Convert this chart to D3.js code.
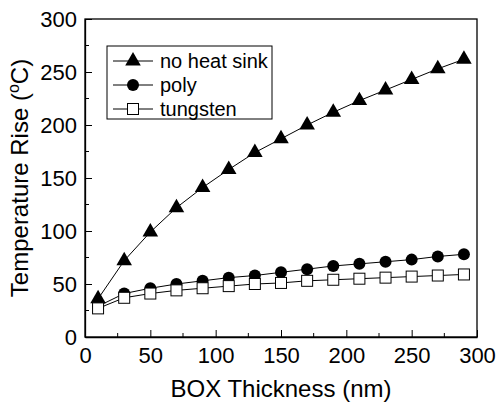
<!DOCTYPE html>
<html>
<head>
<meta charset="utf-8">
<script src="https://cdn.jsdelivr.net/npm/d3@7"></script>
<style>
  body { margin: 0; background: #fff; }
  text { font-family: "Liberation Sans", Arial, sans-serif; fill: #000; }
</style>
</head>
<body>
<div class="chart"></div>
<script>
var svgWidth = 496;
var svgHeight = 407;

var margin = { top: 19, right: 19, bottom: 70, left: 85 };
var width = svgWidth - margin.left - margin.right;
var height = svgHeight - margin.top - margin.bottom;

// data
var thickness = [10, 30, 50, 70, 90, 110, 130, 150, 170, 190, 210, 230, 250, 270, 290];
var noHeatSink = [36, 72, 99, 122, 141, 158, 174, 187, 200, 212, 223, 233, 243, 253, 262];
var poly = [29, 41, 46, 50, 53, 56, 58, 61, 64, 67, 69, 71, 73, 76, 78];
var tungsten = [27, 37, 41, 44, 46, 48, 50, 51, 53, 54, 55, 56, 57, 58, 59];
var xTicks = [0, 50, 100, 150, 200, 250, 300];
var yTicks = [0, 50, 100, 150, 200, 250, 300];
var seriesNames = ["no heat sink", "poly", "tungsten"];

var svg = d3.select(".chart")
  .append("svg")
  .attr("width", svgWidth)
  .attr("height", svgHeight);

var chartGroup = svg.append("g")
  .attr("transform", `translate(${margin.left}, ${margin.top})`);

var x = d3.scaleLinear().domain([0, 300]).range([0, width]);
var y = d3.scaleLinear().domain([0, 300]).range([height, 0]);

// frame
chartGroup.append("rect")
  .attr("width", width)
  .attr("height", height)
  .attr("fill", "none")
  .attr("stroke", "#000")
  .attr("stroke-width", 1.3);

// minor ticks
var minor = d3.range(25, 300, 50);
chartGroup.selectAll(".xminor").data(minor).enter().append("line")
  .attr("x1", d => x(d)).attr("x2", d => x(d))
  .attr("y1", height).attr("y2", height - 4)
  .attr("stroke", "#000");
chartGroup.selectAll(".yminor").data(minor).enter().append("line")
  .attr("y1", d => y(d)).attr("y2", d => y(d))
  .attr("x1", 0).attr("x2", 4)
  .attr("stroke", "#000");

// axes with inward ticks
var xAxis = chartGroup.append("g")
  .attr("transform", `translate(0, ${height})`)
  .call(d3.axisBottom(x).tickValues(xTicks).tickSizeInner(-7).tickSizeOuter(0).tickPadding(14));
var yAxis = chartGroup.append("g")
  .call(d3.axisLeft(y).tickValues(yTicks).tickSizeInner(-7).tickSizeOuter(0).tickPadding(8));

[xAxis, yAxis].forEach(function(a) {
  a.select(".domain").attr("stroke-width", 1.3);
  a.selectAll("text").style("font-size", "22px").attr("font-family", null);
});
xAxis.selectAll("text").attr("dy", "0.71em").attr("y", 10);

// lines
var line = d3.line()
  .x((d, i) => x(thickness[i]))
  .y(d => y(d));

var allSeries = [noHeatSink, poly, tungsten];
allSeries.forEach(function(s) {
  chartGroup.append("path")
    .datum(s)
    .attr("d", line)
    .attr("fill", "none")
    .attr("stroke", "#000")
    .attr("stroke-width", 1);
});

function marker(g, k, cx, cy) {
  if (k === 0) {
    g.append("path")
      .attr("d", d3.symbol().type(d3.symbolTriangle).size(105)())
      .attr("transform", `translate(${cx}, ${cy})`)
      .attr("fill", "#000");
  } else if (k === 1) {
    g.append("circle")
      .attr("cx", cx).attr("cy", cy).attr("r", 6)
      .attr("fill", "#000");
  } else {
    g.append("rect")
      .attr("x", cx - 5.5).attr("y", cy - 5.5)
      .attr("width", 11).attr("height", 11)
      .attr("fill", "#fff").attr("stroke", "#000").attr("stroke-width", 1);
  }
}

// draw tungsten last so its squares sit on top
[0, 1, 2].forEach(function(k) {
  var g = chartGroup.append("g");
  allSeries[k].forEach(function(v, i) {
    marker(g, k, x(thickness[i]), y(v));
  });
});

// legend
var legend = svg.append("g").attr("transform", "translate(107, 46)");
legend.append("rect")
  .attr("width", 165).attr("height", 73)
  .attr("fill", "#fff").attr("stroke", "#000").attr("stroke-width", 1);
seriesNames.forEach(function(name, k) {
  var ly = 15 + k * 24;
  legend.append("line")
    .attr("x1", 6).attr("x2", 46)
    .attr("y1", ly).attr("y2", ly)
    .attr("stroke", "#000");
  marker(legend, k, 26, ly);
  legend.append("text")
    .attr("x", 53).attr("y", ly + 7)
    .style("font-size", "20px")
    .text(name);
});

// axis titles
svg.append("text")
  .attr("x", margin.left + width / 2)
  .attr("y", 397)
  .attr("text-anchor", "middle")
  .style("font-size", "24px")
  .text("BOX Thickness (nm)");

var yTitle = svg.append("text")
  .attr("transform", `translate(28, ${margin.top + height / 2}) rotate(-90)`)
  .attr("text-anchor", "middle")
  .style("font-size", "24px");
yTitle.append("tspan").text("Temperature Rise (");
yTitle.append("tspan").attr("dy", -9).style("font-size", "16px").text("o");
yTitle.append("tspan").attr("dy", 9).text("C)");
</script>
</body>
</html>
